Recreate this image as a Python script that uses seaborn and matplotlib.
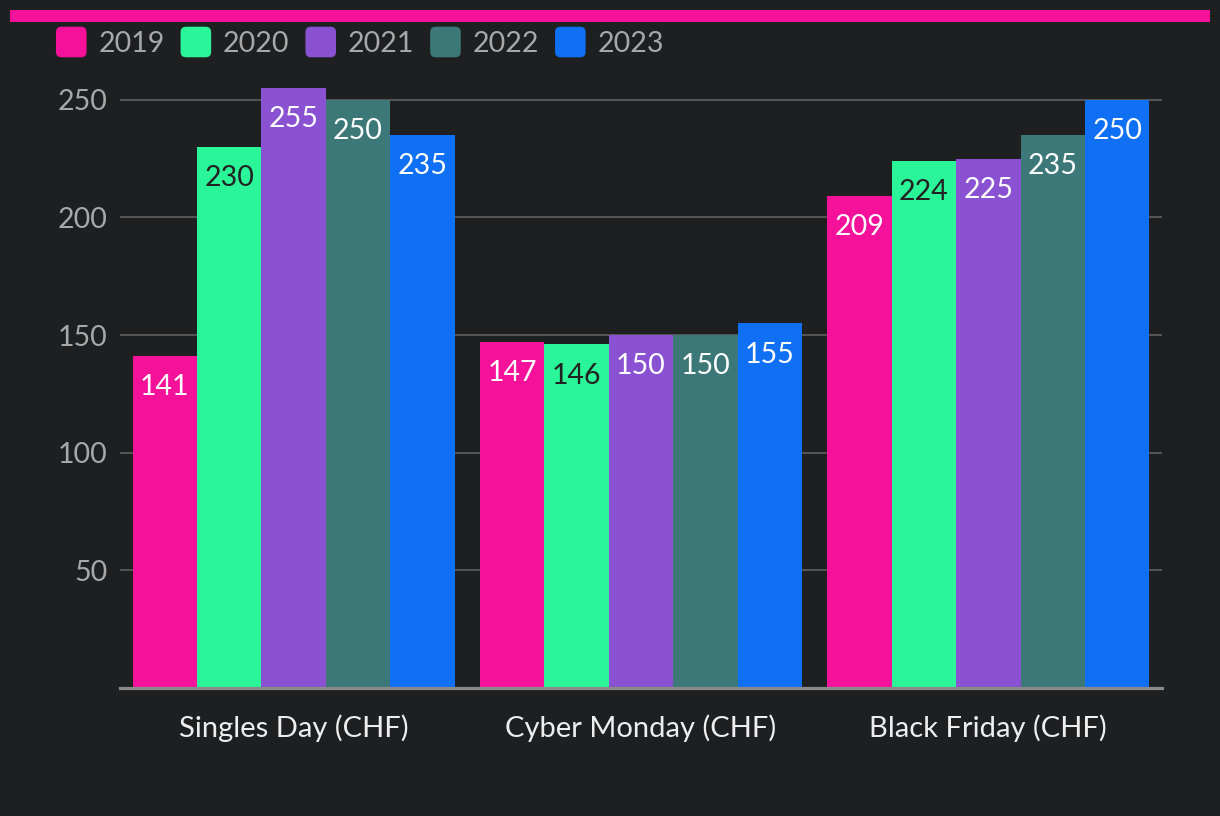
import pandas as pd
import matplotlib
matplotlib.use("Agg")
import matplotlib.pyplot as plt
import matplotlib.patches as mpatches
from matplotlib.legend_handler import HandlerPatch
import seaborn as sns

# chart data
events = ["Singles Day (CHF)", "Cyber Monday (CHF)", "Black Friday (CHF)"]
years = ["2019", "2020", "2021", "2022", "2023"]
v2019 = [141, 147, 209]
v2020 = [230, 146, 224]
v2021 = [255, 150, 225]
v2022 = [250, 150, 235]
v2023 = [235, 155, 250]
colors = ["#f5119a", "#2af598", "#8a52d3", "#3d7878", "#0f6ff5"]
label_colors = ["white", "#222222", "white", "white", "white"]

BG = "#1e1f21"


class RoundHandler(HandlerPatch):
    def create_artists(self, legend, orig_handle, xdescent, ydescent,
                       width, height, fontsize, trans):
        size = min(width, height) * 1.2
        x0 = xdescent + (width - size) / 2 - xdescent * 2
        y0 = -ydescent + (height - size) / 2
        p = mpatches.FancyBboxPatch((x0, y0), size, size,
                                    boxstyle=mpatches.BoxStyle("Round", pad=0, rounding_size=size * 0.18),
                                    facecolor=orig_handle.get_facecolor(), edgecolor="none",
                                    transform=trans)
        return [p]


def main():
    rows = []
    for yr, vals in zip(years, [v2019, v2020, v2021, v2022, v2023]):
        for ev, v in zip(events, vals):
            rows.append({"event": ev, "year": yr, "value": v})
    df = pd.DataFrame(rows)

    sns.set_theme(style="dark")
    plt.rcParams['font.family'] = ['Lato', 'DejaVu Sans']

    fig = plt.figure(figsize=(12.2, 8.16), dpi=100, facecolor=BG)
    ax = fig.add_axes([120 / 1220, 128 / 816, 1042 / 1220, 600 / 816])
    ax.set_facecolor(BG)

    sns.barplot(data=df, x="event", y="value", hue="year", order=events, hue_order=years,
                palette=colors, width=0.927, saturation=1, edgecolor="none", linewidth=0,
                legend=False, ax=ax)

    ax.set_ylim(0, 255)
    ax.set_xlim(-0.5, 2.5)
    ax.set_yticks([50, 100, 150, 200, 250])
    ax.yaxis.grid(True, color="#5a5a5a", linewidth=1.3)
    ax.xaxis.grid(False)
    ax.set_axisbelow(True)
    for s in ["top", "right", "left"]:
        ax.spines[s].set_visible(False)
    ax.spines["bottom"].set_color("#8a8a8a")
    ax.spines["bottom"].set_linewidth(2.3)
    ax.tick_params(axis="y", length=0, pad=9, labelsize=20.5, labelcolor="#a8a8a8")
    ax.tick_params(axis="x", length=0, pad=19, labelsize=21, labelcolor="#eeeeee")
    ax.set_xlabel("")
    ax.set_ylabel("")

    # value labels inside bar tops
    for cont, lc in zip(ax.containers, label_colors):
        for bar in cont:
            h = bar.get_height()
            ax.annotate(f"{h:.0f}", (bar.get_x() + bar.get_width() / 2, h),
                        xytext=(0, -22.5), textcoords="offset points",
                        ha="center", va="center", fontsize=20.5, color=lc)

    # top accent bar
    fig.patches.append(mpatches.Rectangle((10 / 1220, 1 - 22 / 816), 1200 / 1220, 12 / 816,
                                          transform=fig.transFigure, facecolor="#f5119a",
                                          edgecolor="none"))

    handles = [mpatches.Patch(facecolor=c, label=y) for c, y in zip(colors, years)]
    fig.legend(handles=handles, loc="center left", bbox_to_anchor=(57 / 1220, 1 - 43 / 816),
               ncol=5, frameon=False, fontsize=20.5, labelcolor="#a8a8a8",
               handler_map={mpatches.Patch: RoundHandler()},
               handlelength=1.0, handleheight=1.0, handletextpad=0.45, columnspacing=0.6,
               borderpad=0, borderaxespad=0)

    fig.savefig("out.png", dpi=100, facecolor=BG)
    plt.close(fig)


if __name__ == "__main__":
    main()
